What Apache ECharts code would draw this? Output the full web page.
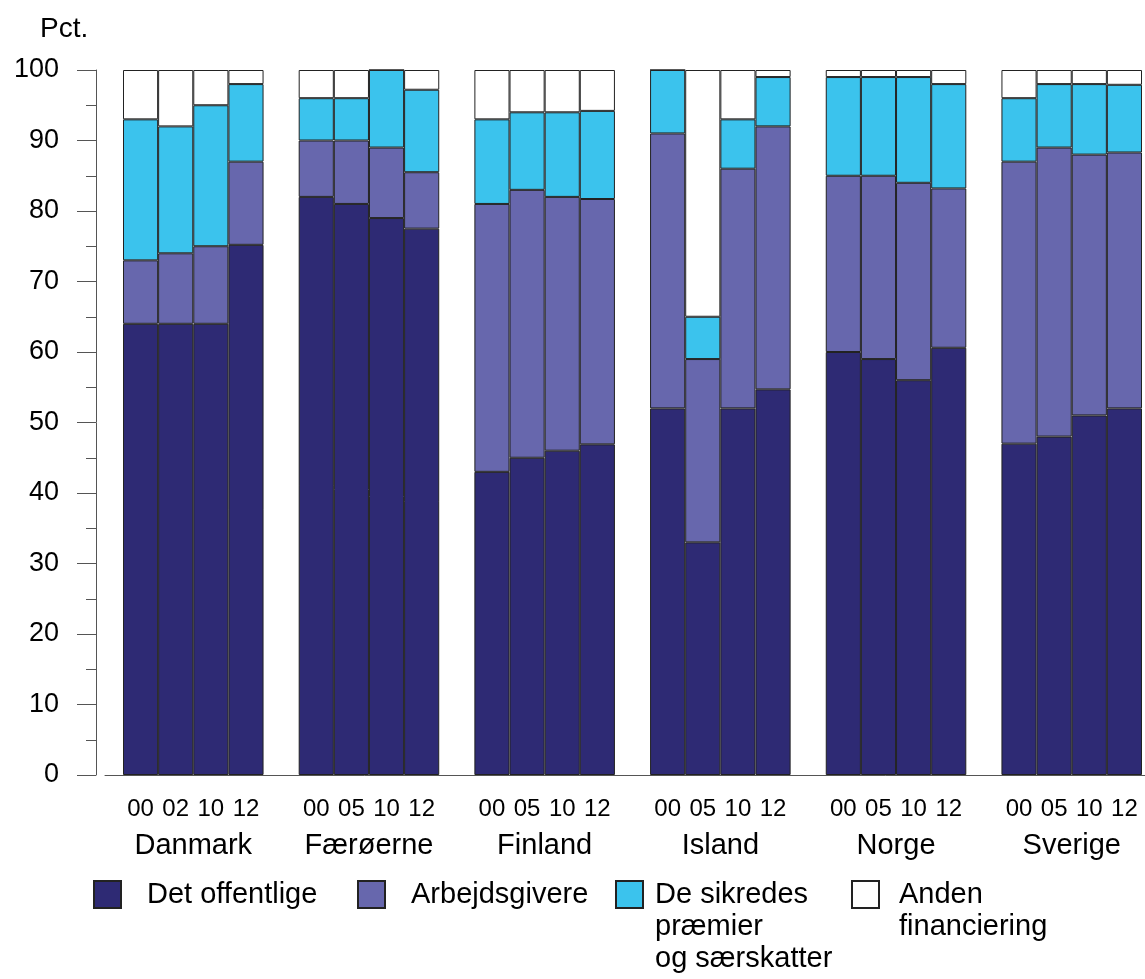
<!DOCTYPE html>
<html>
<head>
<meta charset="utf-8">
<script src="https://cdn.jsdelivr.net/npm/echarts@6/dist/echarts.min.js"></script>
<style>html,body{margin:0;padding:0;background:#fff}#c{width:1145px;height:979px}</style>
</head>
<body>
<div id="c"></div>
<script>
const countries = ['Danmark', 'Færøerne', 'Finland', 'Island', 'Norge', 'Sverige'];
const years = [
  ['00', '02', '10', '12'],
  ['00', '05', '10', '12'],
  ['00', '05', '10', '12'],
  ['00', '05', '10', '12'],
  ['00', '05', '10', '12'],
  ['00', '05', '10', '12']
];
const seriesNames = ['Det offentlige', 'Arbejdsgivere', 'De sikredes\npræmier\nog særskatter', 'Anden\nfinanciering'];
const detOffentlige = [64, 64, 64, 75.2, 82, 81, 79, 77.5, 43, 45, 46, 46.9, 52, 33, 52, 54.7, 60, 59, 56, 60.6, 47, 48, 51, 52];
const arbejdsgivere = [9, 10, 11, 11.8, 8, 9, 10, 8, 38, 38, 36, 34.8, 39, 26, 34, 37.3, 25, 26, 28, 22.6, 40, 41, 37, 36.3];
const deSikredes = [20, 18, 20, 11, 6, 6, 11, 11.7, 12, 11, 12, 12.5, 9, 6, 7, 7, 14, 14, 15, 14.8, 9, 9, 10, 9.6];
const anden = [7, 8, 5, 2, 4, 4, 0, 2.8, 7, 6, 6, 5.8, 0, 35, 7, 1, 1, 1, 1, 2, 4, 2, 2, 2.1];
const yTicks = [0, 10, 20, 30, 40, 50, 60, 70, 80, 90, 100];

// build slot layout: 4 bars per country, blank slot between groups
const slots = [];
const nameSlots = [];
countries.forEach((c, g) => {
  years[g].forEach((y, i) => slots.push({ label: y, idx: g * 4 + i }));
  if (g < countries.length - 1) slots.push({ label: '', idx: -1 });
});
for (let i = 0; i <= slots.length; i++) nameSlots.push('');
countries.forEach((c, g) => { nameSlots[g * 5 + 2] = c; });
const cats = slots.map(s => s.label);
function mk(arr) { return slots.map(s => s.idx < 0 ? null : arr[s.idx]); }

const FONT = 'Liberation Sans, Arial, sans-serif';
const NARROW = 'Liberation Sans Narrow, Arial Narrow, Liberation Sans, Arial, sans-serif';
const colors = ['#2E2A74', '#6767AD', '#3BC3ED', '#FFFFFF'];
const dataArr = [detOffentlige, arbejdsgivere, deSikredes, anden];

const chart = echarts.init(document.getElementById('c'), null, { renderer: 'canvas' });
const legendLefts = [93, 357, 615, 851];
const legendTops = [878.5, 878.5, 814.5, 846.5];
const legendPrefix = ['', '', '\n\n', '\n'];
const legendTextGap = [21, 21, 7, 15];

chart.setOption({
  animation: false,
  textStyle: { fontFamily: FONT },
  title: { text: 'Pct.', left: 40, top: 15, padding: 0, textStyle: { fontSize: 28, fontWeight: 'normal', color: '#000', fontFamily: FONT } },
  legend: seriesNames.map((n, i) => ({
    data: [n], left: legendLefts[i], top: legendTops[i], padding: 0,
    icon: 'rect', itemWidth: 27, itemHeight: 27, selectedMode: false,
    formatter: name => legendPrefix[i] + name,
    textStyle: { fontSize: 29, lineHeight: 32, color: '#000', fontFamily: FONT, padding: [0, 0, 0, legendTextGap[i]] }
  })),
  grid: [
    { left: 123, right: 0, top: 70, bottom: 204 },
    { left: 105, right: 0, top: 70, bottom: 204 }
  ],
  xAxis: [
    { type: 'category', gridIndex: 0, position: 'bottom', data: cats,
      axisLine: { show: false }, axisTick: { show: false },
      axisLabel: { interval: 0, fontSize: 24, color: '#000', margin: 22, fontFamily: NARROW } },
    { type: 'category', gridIndex: 0, position: 'bottom', data: nameSlots, boundaryGap: false,
      axisLine: { show: false }, axisTick: { show: false },
      axisLabel: { interval: 0, fontSize: 29, color: '#000', margin: 56, fontFamily: FONT } },
    { type: 'category', gridIndex: 1, position: 'bottom', data: cats,
      axisLine: { show: true, lineStyle: { color: '#555', width: 1 } }, axisTick: { show: false }, axisLabel: { show: false } }
  ],
  yAxis: [
    { type: 'value', gridIndex: 0, min: 0, max: 100, interval: 10, offset: 27,
      axisLine: { show: true, lineStyle: { color: '#555', width: 1 } },
      axisTick: { show: true, length: 19, lineStyle: { color: '#555' } },
      minorTick: { show: true, splitNumber: 2, length: 10, lineStyle: { color: '#555' } },
      splitLine: { show: false },
      axisLabel: { fontSize: 27, color: '#000', margin: 37, fontFamily: FONT,
        formatter: v => yTicks.indexOf(v) >= 0 ? String(v) : '' } },
    { type: 'value', gridIndex: 1, min: 0, max: 100, show: false }
  ],
  series: seriesNames.map((n, i) => ({
    name: n, type: 'bar', stack: 'total', xAxisIndex: 0, yAxisIndex: 0,
    barWidth: '100%', data: mk(dataArr[i]),
    itemStyle: { color: colors[i], borderColor: '#222', borderWidth: 1 },
    emphasis: { disabled: true }
  }))
});
</script>
</body>
</html>
